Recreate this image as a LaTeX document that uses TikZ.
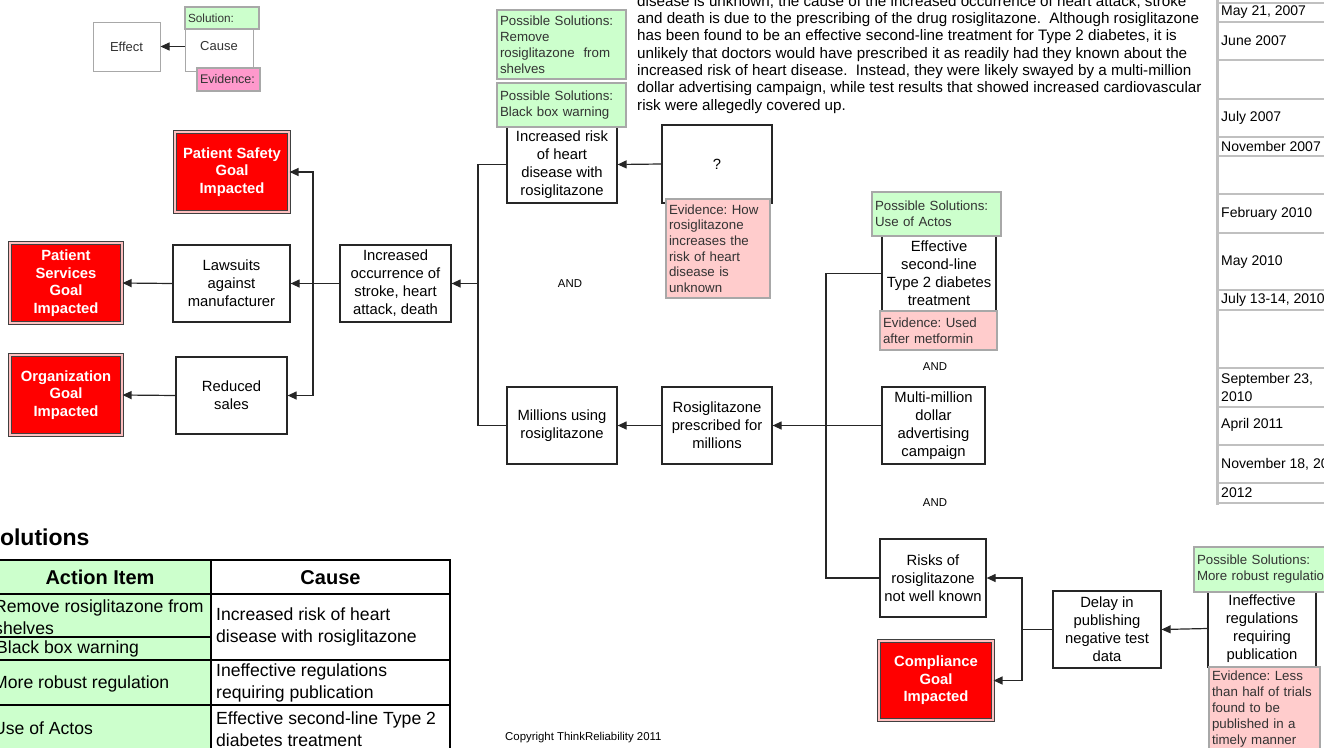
\documentclass[tikz,border=0pt]{standalone}
\usepackage{fontspec}
\setmainfont{Liberation Sans}
\usetikzlibrary{arrows.meta}
\definecolor{solg}{HTML}{CCFFCC}
\definecolor{evp}{HTML}{FFCCCC}
\definecolor{legev}{HTML}{FF99CC}
\definecolor{bord}{HTML}{A8A8A8}
\definecolor{txtg}{HTML}{333333}
\definecolor{tlgray}{HTML}{C0C0C0}
\frenchspacing
\begin{document}
\begin{tikzpicture}[x=1pt,y=-1pt,
  box/.style={draw=black!85, line width=1.2pt, fill=white, align=center, inner sep=0pt, font=\fontsize{14.8}{18}\selectfont},
  goal/.style={fill=red, draw=black!75, double=red!25!white, double distance=1.2pt, line width=1.1pt, align=center, inner sep=0pt, text=white, font=\bfseries\fontsize{14.8}{17.6}\selectfont},
  solbox/.style={fill=solg, draw=bord, line width=1.1pt, align=left, inner xsep=3pt, inner ysep=0pt, text=txtg, font=\fontsize{13.3}{16}\selectfont},
  evbox/.style={solbox, fill=evp},
  legbox/.style={draw=bord, line width=1pt, fill=white, inner sep=0pt, text=txtg, font=\fontsize{13}{15}\selectfont},
  conn/.style={line width=1.2pt, draw=black!85},
  arr/.style={conn, -{Triangle[length=9pt,width=8pt]}},
  andtxt/.style={font=\fontsize{11.4}{13}\selectfont},
  para/.style={anchor=base west, inner sep=0pt, font=\fontsize{15.2}{17}\selectfont},
  tl/.style={anchor=west, align=left, inner sep=0pt, font=\fontsize{14}{18}\selectfont},
  tabt/.style={anchor=west, align=left, inner sep=0pt, font=\fontsize{17.6}{22}\selectfont},
]
\useasboundingbox (0,0) rectangle (1324,747);
\clip (0,0) rectangle (1324,747);

% ---------- legend ----------
\node[legbox, minimum width=67pt, minimum height=49pt] (leff) at (126.5,46.5) {Effect};
\node[legbox, minimum width=68pt, minimum height=49pt] (lcause) at (219,46.5) {Cause};
\node[solbox, text width=68pt, minimum height=22pt, font=\fontsize{11.8}{14}\selectfont] (lsol) at (222,18) {Solution:};
\node[solbox, fill=legev, text width=57pt, minimum height=23pt, font=\fontsize{12.5}{14}\selectfont] (lev) at (228.5,79.5) {Evidence:};
\draw[arr, line width=1pt] (lcause.west) -- (leff.east);

% ---------- paragraph ----------
\node[para] (p1) at (637,6.2) {disease is unknown, the cause of the increased occurrence of heart attack, stroke};
\node[para] (p2) at (637,23.5) {and death is due to the prescribing of the drug rosiglitazone.\ \ Although rosiglitazone};
\node[para] (p3) at (637,40.8) {has been found to be an effective second-line treatment for Type 2 diabetes, it is};
\node[para] (p4) at (637,58.1) {unlikely that doctors would have prescribed it as readily had they known about the};
\node[para] (p5) at (637,75.4) {increased risk of heart disease.\ \ Instead, they were likely swayed by a multi-million};
\node[para] (p6) at (637,92.7) {dollar advertising campaign, while test results that showed increased cardiovascular};
\node[para] (p7) at (637,110) {risk were allegedly covered up.};

% ---------- timeline ----------
\foreach \yy in {3,22,60,99,137,156,194,233,290,310,368,407,445,483,503}
  \draw[line width=2pt, tlgray] (1217,\yy) -- (1330,\yy);
\draw[line width=3pt, tlgray] (1217,-5) -- (1217,505);
\node[tl] (t1) at (1221,12.5) {May 21, 2007};
\node[tl] (t2) at (1221,41) {June 2007};
\node[tl] (t3) at (1221,118) {July 2007};
\node[tl] (t4) at (1221,146.5) {November 2007};
\node[tl] (t5) at (1221,213.5) {February 2010};
\node[tl] (t6) at (1221,262) {May 2010};
\node[tl] (t7) at (1221,300) {July 13-14, 2010};
\node[tl] (t8) at (1221,387) {September 23,\\2010};
\node[tl] (t9) at (1221,425) {April 2011};
\node[tl] (t10) at (1221,464) {November 18, 2011};
\node[tl] (t11) at (1221,493) {2012};

% ---------- goals and effects ----------
\node[goal, minimum width=114pt, minimum height=80pt] (ps) at (232,172) {Patient Safety\\Goal\\Impacted};
\node[goal, minimum width=112pt, minimum height=80pt] (psv) at (66,283) {Patient\\Services\\Goal\\Impacted};
\node[goal, minimum width=112pt, minimum height=80pt] (org) at (66,395) {Organization\\Goal\\Impacted};
\node[box, minimum width=117pt, minimum height=77pt] (law) at (231.5,283.5) {Lawsuits\\against\\manufacturer};
\node[box, minimum width=111pt, minimum height=77pt] (red) at (231.5,395.5) {Reduced\\sales};
\node[box, minimum width=111pt, minimum height=77pt] (inc) at (395.5,283.5) {Increased\\occurrence of\\stroke, heart\\attack, death};

\node[box, minimum width=110pt, minimum height=77pt] (ir) at (562,164.5) {Increased risk\\of heart\\disease with\\rosiglitazone};
\node[solbox, text width=123pt, minimum height=69pt] (gs1) at (561.5,44.5) {Possible Solutions:\\Remove\\rosiglitazone\ \ from\\shelves};
\node[solbox, text width=123pt, minimum height=44pt] (gs2) at (561.5,105) {Possible Solutions:\\Black box warning};

\node[box, minimum width=110pt, minimum height=78pt] (q) at (717,164) {?};
\node[evbox, text width=98pt, minimum height=99pt, font=\fontsize{13.3}{15.6}\selectfont] (evq) at (718,248.5) {Evidence: How\\rosiglitazone\\increases the\\risk of heart\\disease is\\unknown};

\node[box, minimum width=110pt, minimum height=77pt] (mil) at (562,425.5) {Millions using\\rosiglitazone};
\node[box, minimum width=110pt, minimum height=77pt] (ros) at (717,425.5) {Rosiglitazone\\prescribed for\\millions};

\node[box, minimum width=114pt, minimum height=75pt] (eff) at (939,273.5) {Effective\\second-line\\Type 2 diabetes\\treatment};
\node[solbox, text width=123pt, minimum height=44pt] (geff) at (936.5,214) {Possible Solutions:\\Use of Actos};
\node[evbox, text width=111pt, minimum height=39pt] (peff) at (938.5,330.5) {Evidence: Used\\after metformin};

\node[box, minimum width=103pt, minimum height=77pt] (mm) at (933.5,425.5) {Multi-million\\dollar\\advertising\\campaign};
\node[box, minimum width=106pt, minimum height=78pt] (risk) at (933,578) {Risks of\\rosiglitazone\\not well known};
\node[goal, minimum width=114pt, minimum height=79pt] (comp) at (936,680.5) {Compliance\\Goal\\Impacted};
\node[box, minimum width=108pt, minimum height=77pt] (delay) at (1107,629.5) {Delay in\\publishing\\negative test\\data};

\node[box, minimum width=108pt, minimum height=77pt] (ineff) at (1262,628.5) {Ineffective\\regulations\\requiring\\publication};
\node[solbox, text width=140pt, minimum height=45pt] (gin) at (1267,569.5) {Possible Solutions:\\More robust regulation};
\node[evbox, text width=105pt, minimum height=84pt] (pin) at (1264.5,709) {Evidence: Less\\than half of trials\\found to be\\published in a\\timely manner};

\node[andtxt] (and1) at (570,284) {AND};
\node[andtxt] (and2) at (935,367) {AND};
\node[andtxt] (and3) at (935,503) {AND};

% ---------- connectors ----------
\coordinate (j1) at (313,283.5);
\draw[arr] (inc.west) -- (law.east);
\draw[arr] (j1) |- (ps.east);
\draw[arr] (j1) |- (red.east);
\draw[arr] (law.west) -- (psv.east);
\draw[arr] (red.west) -- (org.east);

\coordinate (j2) at (478,283.5);
\draw[conn] (ir.west) -| (j2);
\draw[conn] (mil.west) -| (j2);
\draw[arr] (j2) -- (inc.east);

\draw[arr] (q.west) -- (ir.east);
\draw[arr] (ros.west) -- (mil.east);

\coordinate (j3) at (826,425.5);
\draw[conn] (eff.west) -| (j3);
\draw[conn] (risk.west) -| (j3);
\draw[conn] (mm.west) -- (j3);
\draw[arr] (j3) -- (ros.east);

\coordinate (j4) at (1022,629.5);
\draw[conn] (delay.west) -- (j4);
\draw[arr] (j4) |- (risk.east);
\draw[arr] (j4) |- (comp.east);
\draw[arr] (ineff.west) -- (delay.east);

% ---------- solutions table ----------
\node[anchor=base west, inner sep=0pt, font=\bfseries\fontsize{23}{26}\selectfont] (soltitle) at (-15.5,545) {Solutions};
\fill[solg] (-11,560) rectangle (211,760);
\draw[line width=2pt] (-11,560) rectangle (450,760);
\draw[line width=2pt] (211,560) -- (211,760);
\draw[line width=2pt] (-11,594) -- (450,594);
\draw[line width=1.5pt] (-11,637) -- (211,637);
\draw[line width=2pt] (-11,660) -- (450,660);
\draw[line width=2pt] (-11,705) -- (450,705);
\node[font=\bfseries\fontsize{20}{24}\selectfont, inner sep=0pt] (h1) at (100,577.5) {Action Item};
\node[font=\bfseries\fontsize{20}{24}\selectfont, inner sep=0pt] (h2) at (330.5,577.5) {Cause};
\node[tabt] (a1) at (-6,617) {Remove rosiglitazone from\\shelves};
\node[tabt] (a2) at (-4,649) {Black box warning};
\node[tabt] (a3) at (-7,684) {More robust regulation};
\node[tabt] (a4) at (-7,728) {Use of Actos};
\node[tabt] (c1) at (216,627) {Increased risk of heart\\disease with rosiglitazone};
\node[tabt] (c2) at (216,683) {Ineffective regulations\\requiring publication};
\node[tabt] (c3) at (216,729) {Effective second-line Type 2\\diabetes treatment};

\node[anchor=west, inner sep=0pt, font=\fontsize{11.4}{13}\selectfont] (copy) at (505,738) {Copyright ThinkReliability 2011};
\end{tikzpicture}
\end{document}
